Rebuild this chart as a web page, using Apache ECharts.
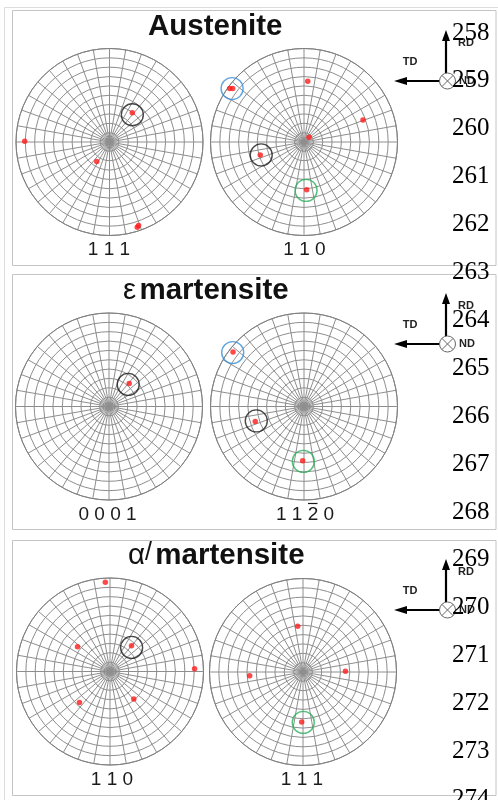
<!DOCTYPE html>
<html>
<head>
<meta charset="utf-8">
<script src="https://cdn.jsdelivr.net/npm/echarts@6/dist/echarts.min.js"></script>
<style>
  html, body { margin: 0; padding: 0; background: #fff; }
  #chart { width: 498px; height: 800px; }
</style>
</head>
<body>
<div id="chart"></div>
<script>
// poles as [radius (fraction of net radius), azimuth in deg, ccw from the right]
const austenite111 = [[0.396, 52.0], [0.907, 179.5], [0.249, 236.7], [0.960, 288.0], [0.945, 289.2]]
const austenite110 = [[0.979, 144.3], [0.953, 143.2], [0.650, 86.5], [0.673, 20.4], [0.073, 43.0], [0.488, 196.5], [0.511, 273.2]]
const epsilon0001 = [[0.328, 48.8]]
const epsilon1120 = [[0.957, 142.5], [0.546, 197.2], [0.580, 268.6]]
const alpha110 = [[0.957, 93.0], [0.436, 142.8], [0.359, 50.1], [0.905, 1.9], [0.466, 225.5], [0.390, 310.8]]
const alpha111 = [[0.493, 96.6], [0.572, 184.0], [0.454, 0.9], [0.535, 268.5]]

// marker rings [radius, azimuth, colour key]
const rings111 = [[0.380, 50.0, 'k']]
const rings110 = [[0.958, 143.4, 'b'], [0.478, 196.8, 'k'], [0.518, 272.4, 'g']]
const rings0001 = [[0.313, 49.0, 'k']]
const rings1120 = [[0.956, 142.9, 'b'], [0.533, 196.8, 'k'], [0.587, 269.3, 'g']]
const ringsA110 = [[0.346, 48.1, 'k']]
const ringsA111 = [[0.539, 270.3, 'g']]

const titles = ['Austenite', 'ε martensite', 'α/ martensite']
const poleLabels = ['1 1 1', '1 1 0', '0 0 0 1', '1 1 2 0', '1 1 0', '1 1 1']
const lineNumbers = [258, 259, 260, 261, 262, 263, 264, 265, 266, 267, 268, 269, 270, 271, 272, 273, 274]

const poles = [austenite111, austenite110, epsilon0001, epsilon1120, alpha110, alpha111]
const rings = [rings111, rings110, rings0001, rings1120, ringsA110, ringsA111]
const RING_COLORS = { k: '#1a1a1a', b: '#3a8fd6', g: '#2bb05a' }

const centers = [[109.5, 142], [304, 142], [109, 406.5], [304, 406.5], [110, 671.5], [303, 672]]
const R = 93.5
const panelTops = [10.5, 274.5, 540.5]
const arrowY = [81, 344, 610]
const titleX = [148, 123, 128]
const titleY = [26.5, 290.5, 556]
const labelY = [250, 515, 780]
const labelX = [109, 304.5, 107.5, 305, 112, 302]

const chart = echarts.init(document.getElementById('chart'))

const gridLine = { color: '#8e8e8e', width: 1 }
const polar = centers.map(c => ({ center: c, radius: R }))
const angleAxis = centers.map((c, i) => ({
  polarIndex: i, type: 'value', min: 0, max: 360, interval: 10,
  startAngle: 0, clockwise: false,
  axisLine: { show: true, lineStyle: { color: '#808080', width: 1 } },
  axisTick: { show: false }, axisLabel: { show: false },
  splitLine: { show: true, lineStyle: gridLine },
}))
const radiusAxis = centers.map((c, i) => ({
  polarIndex: i, type: 'value', min: 0, max: 1, interval: 0.1,
  axisLine: { show: false }, axisTick: { show: false }, axisLabel: { show: false },
  splitLine: { show: true, lineStyle: gridLine },
}))

const series = []
rings.forEach((list, i) => {
  series.push({
    type: 'scatter', coordinateSystem: 'polar', polarIndex: i,
    symbol: 'circle', symbolSize: 22, silent: true, z: 3,
    data: list.map(d => ({
      value: [d[0], d[1]],
      itemStyle: { color: 'rgba(0,0,0,0)', borderColor: RING_COLORS[d[2]], borderWidth: 1.4 },
    })),
  })
})
poles.forEach((list, i) => {
  series.push({
    type: 'scatter', coordinateSystem: 'polar', polarIndex: i,
    symbol: 'circle', symbolSize: 5.5, silent: true, z: 4,
    itemStyle: { color: '#ff1a1a' },
    data: list,
  })
})

const graphic = []
// page edges + panel frames
graphic.push({ type: 'line', shape: { x1: 4.5, y1: 7.5, x2: 498, y2: 7.5 }, style: { stroke: '#dcdcdc', lineWidth: 1 } })
graphic.push({ type: 'line', shape: { x1: 4.5, y1: 7.5, x2: 4.5, y2: 800 }, style: { stroke: '#dcdcdc', lineWidth: 1 } })
panelTops.forEach(t => {
  graphic.push({ type: 'rect', shape: { x: 12.5, y: t, width: 483.5, height: 255 }, style: { fill: 'none', stroke: '#c4c4c4', lineWidth: 1 } })
})

const titleRich = {
  b: { fontFamily: 'Liberation Sans', fontWeight: 'bold', fontSize: 29.5, fill: '#111' },
  r: { fontFamily: 'Liberation Sans', fontWeight: 'normal', fontSize: 29.5, fill: '#111' },
  s: { fontFamily: 'Liberation Sans', fontWeight: 'normal', fontSize: 25, fill: '#111', padding: [0, 0, 6, 0] },
}
const titleText = ['{b|Austenite}', '{r|ε} {b|martensite}', '{r|α}{s|/} {b|martensite}']
titles.forEach((t, i) => {
  graphic.push({
    type: 'text', x: titleX[i], y: titleY[i],
    style: { text: titleText[i], rich: titleRich, align: 'left', verticalAlign: 'middle' },
  })
})

poleLabels.forEach((t, i) => {
  graphic.push({
    type: 'text', x: labelX[i], y: labelY[Math.floor(i / 2)],
    style: { text: t, fontFamily: 'Liberation Sans', fontSize: 19, fill: '#1a1a1a', align: 'center', verticalAlign: 'middle' },
  })
})
// bar over the 2 in 1 1 2 0
graphic.push({ type: 'line', shape: { x1: 308, y1: 503.5, x2: 317.5, y2: 503.5 }, style: { stroke: '#1a1a1a', lineWidth: 1.2 } })

// RD / TD / ND sample axes
arrowY.forEach(cy => {
  const ax = 446, cx = 447.5, tip = cy - 51
  graphic.push({ type: 'line', shape: { x1: ax, y1: cy - 8, x2: ax, y2: tip + 8 }, style: { stroke: '#000', lineWidth: 2.2 } })
  graphic.push({ type: 'polygon', shape: { points: [[ax, tip], [ax - 4, tip + 11], [ax + 4, tip + 11]] }, style: { fill: '#000' } })
  graphic.push({ type: 'line', shape: { x1: cx - 8, y1: cy, x2: 404, y2: cy }, style: { stroke: '#000', lineWidth: 2.2 } })
  graphic.push({ type: 'polygon', shape: { points: [[394, cy], [407, cy - 4], [407, cy + 4]] }, style: { fill: '#000' } })
  graphic.push({ type: 'circle', shape: { cx: cx, cy: cy, r: 8 }, style: { fill: '#fff', stroke: '#666', lineWidth: 1 } })
  graphic.push({ type: 'line', shape: { x1: cx - 5.6, y1: cy - 5.6, x2: cx + 5.6, y2: cy + 5.6 }, style: { stroke: '#666', lineWidth: 1 } })
  graphic.push({ type: 'line', shape: { x1: cx - 5.6, y1: cy + 5.6, x2: cx + 5.6, y2: cy - 5.6 }, style: { stroke: '#666', lineWidth: 1 } })
  const small = { fontFamily: 'Liberation Sans', fontWeight: 'bold', fontSize: 11, fill: '#222', align: 'center', verticalAlign: 'middle' }
  graphic.push({ type: 'text', x: 410, y: cy - 19, style: { ...small, text: 'TD' } })
  graphic.push({ type: 'text', x: 466, y: tip + 13, style: { ...small, text: 'RD' } })
  graphic.push({ type: 'text', x: 467, y: cy, style: { ...small, text: 'ND' } })
})

// manuscript line numbers
lineNumbers.forEach((n, i) => {
  graphic.push({
    type: 'text', x: 452, y: 33 + i * 47.9, z: 100,
    style: { text: String(n), fontFamily: 'Liberation Serif', fontSize: 25, fill: '#000', align: 'left', verticalAlign: 'middle' },
  })
})

chart.setOption({
  animation: false,
  backgroundColor: '#fff',
  polar,
  angleAxis,
  radiusAxis,
  series,
  graphic,
})
window.addEventListener('resize', () => chart.resize())
</script>
</body>
</html>
